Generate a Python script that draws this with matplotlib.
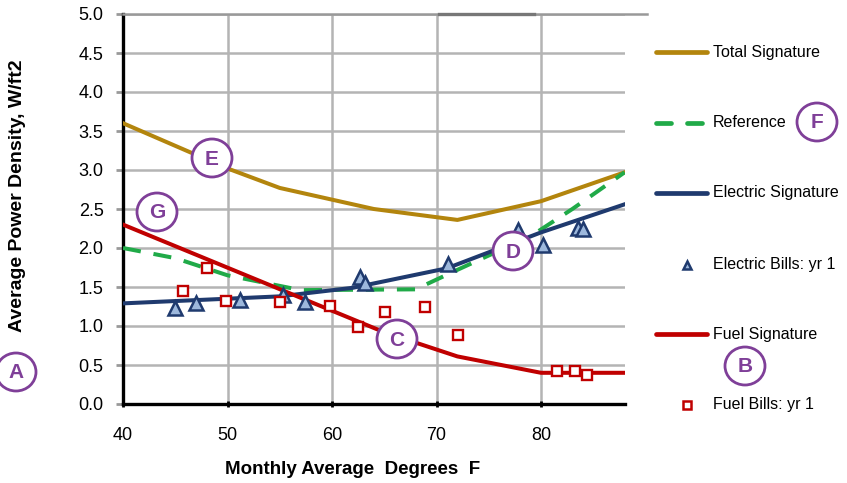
import matplotlib
matplotlib.use("Agg")
import matplotlib.pyplot as plt
from matplotlib.lines import Line2D
from matplotlib.patches import Ellipse

# ---- data ----
total_x = [40, 50, 55, 64, 72, 80, 88]
total_y = [3.60, 3.02, 2.77, 2.50, 2.36, 2.60, 2.97]

ref_x = [40, 45, 50, 57, 68, 72, 79, 83, 88]
ref_y = [2.00, 1.87, 1.65, 1.46, 1.47, 1.72, 2.15, 2.50, 2.97]

elec_x = [40, 55, 62, 71, 80, 88]
elec_y = [1.29, 1.38, 1.49, 1.74, 2.20, 2.56]

elec_bill_x = [45.0, 47.0, 51.2, 55.3, 57.4, 62.7, 63.2, 71.1, 77.8, 80.2, 83.5, 84.0]
elec_bill_y = [1.23, 1.29, 1.33, 1.40, 1.31, 1.63, 1.55, 1.79, 2.23, 2.04, 2.26, 2.24]

fuel_x = [40, 65, 72, 80, 88]
fuel_y = [2.30, 0.92, 0.61, 0.40, 0.40]

fuel_bill_x = [45.7, 48.0, 49.9, 55.0, 59.8, 62.5, 65.1, 68.9, 72.1, 81.5, 83.3, 84.4]
fuel_bill_y = [1.45, 1.74, 1.32, 1.31, 1.26, 0.99, 1.18, 1.25, 0.89, 0.42, 0.42, 0.37]

legend_labels = ["Total Signature", "Reference", "Electric Signature",
                 "Electric Bills: yr 1", "Fuel Signature", "Fuel Bills: yr 1"]
x_ticks = [40, 50, 60, 70, 80]
y_ticks = [0.0, 0.5, 1.0, 1.5, 2.0, 2.5, 3.0, 3.5, 4.0, 4.5, 5.0]

GOLD = "#B3850D"
GREEN = "#20AA48"
NAVY = "#1F3A6E"
RED = "#C00000"
PURPLE = "#7F3F98"
TRI_FILL = "#9DB8DC"
GRID = "#B4B4B4"

plt.rcParams['font.family'] = ['Liberation Sans', 'DejaVu Sans']

W, H = 847, 483
fig = plt.figure(figsize=(W / 100, H / 100), dpi=100)

def fx(px):
    return px / W

def fy(py):
    return 1 - py / H

left, right, top, bottom = 123, 624.6, 14, 404
ax = fig.add_axes([fx(left), fy(bottom), fx(right) - fx(left), fy(top) - fy(bottom)])
ax.set_xlim(40, 88)
ax.set_ylim(0, 5)
ax.set_xticks(x_ticks)
ax.set_yticks(y_ticks)
ax.set_yticklabels([f"{v:.1f}" for v in y_ticks])
ax.grid(True, color=GRID, linewidth=1.8)
ax.set_axisbelow(True)
for s in ["top", "right"]:
    ax.spines[s].set_visible(False)
for s in ["left", "bottom"]:
    ax.spines[s].set_linewidth(2.4)
    ax.spines[s].set_color("black")
ax.tick_params(axis='y', direction='out', length=5, width=2, color="#999999",
               labelsize=13, pad=9)
ax.tick_params(axis='x', direction='inout', length=5, width=2, color="black",
               labelsize=13, pad=14)

lw = 2.9
ax.plot(total_x, total_y, color=GOLD, lw=lw, zorder=3)
ax.plot(ref_x, ref_y, color=GREEN, lw=lw, dashes=(4.5, 3.2), zorder=3)
ax.plot(elec_x, elec_y, color=NAVY, lw=lw, zorder=4)
ax.plot(fuel_x, fuel_y, color=RED, lw=lw, zorder=4)
ax.plot(elec_bill_x, elec_bill_y, linestyle='none', marker='^', ms=9.5, mew=1.8,
        mfc=TRI_FILL, mec=NAVY, zorder=5)
ax.plot(fuel_bill_x, fuel_bill_y, linestyle='none', marker='s', ms=7.5, mew=1.7,
        mfc='white', mec=RED, zorder=5)

# top line extension
fig.add_artist(Line2D([fx(left), fx(647)], [fy(top), fy(top)], color="#999999", lw=1.8))
fig.add_artist(Line2D([fx(439), fx(534)], [fy(top), fy(top)], color="#777777", lw=2.4))

# axis labels
fig.text(fx(353), fy(470), "Monthly Average  Degrees  F", ha='center', va='center',
         fontsize=13.5, fontweight='bold')
fig.text(fx(18), fy(196), "Average Power Density, W/ft2", ha='center', va='center',
         rotation=90, fontsize=14, fontweight='bold')

# legend (manual)
rows = [52, 123, 193, 265, 334, 405]
hx0, hx1, tx = 656, 707, 713
llw = 3.4
fig.add_artist(Line2D([fx(hx0), fx(hx1)], [fy(rows[0])] * 2, color=GOLD, lw=llw,
                      solid_capstyle='round'))
fig.add_artist(Line2D([fx(hx0), fx(671)], [fy(rows[1])] * 2, color=GREEN, lw=llw,
                      solid_capstyle='round'))
fig.add_artist(Line2D([fx(687), fx(702)], [fy(rows[1])] * 2, color=GREEN, lw=llw,
                      solid_capstyle='round'))
fig.add_artist(Line2D([fx(hx0), fx(hx1)], [fy(rows[2])] * 2, color=NAVY, lw=llw,
                      solid_capstyle='round'))
fig.add_artist(Line2D([fx(687)], [fy(rows[3])], marker='^', ms=6, mew=1.8,
                      mfc=TRI_FILL, mec=NAVY, linestyle='none'))
fig.add_artist(Line2D([fx(hx0), fx(hx1)], [fy(rows[4])] * 2, color=RED, lw=llw,
                      solid_capstyle='round'))
fig.add_artist(Line2D([fx(687)], [fy(rows[5])], marker='s', ms=5.5, mew=1.8,
                      mfc='white', mec=RED, linestyle='none'))
for r, lab in zip(rows, legend_labels):
    fig.text(fx(tx), fy(r), lab, ha='left', va='center', fontsize=11.5)

# annotation circles
circles = [("A", 16, 372), ("B", 745, 366), ("C", 397, 339), ("D", 513, 251),
           ("E", 212, 158), ("F", 817, 122), ("G", 157, 212)]
for letter, cx, cy in circles:
    e = Ellipse((fx(cx), fy(cy)), width=40 / W, height=38 / H, transform=fig.transFigure,
                facecolor='white', edgecolor=PURPLE, lw=2.0, zorder=10)
    fig.add_artist(e)
    fig.text(fx(cx), fy(cy + 1), letter, ha='center', va='center', color=PURPLE,
             fontsize=15, fontweight='bold', zorder=11)

fig.savefig("out.png", dpi=100)
